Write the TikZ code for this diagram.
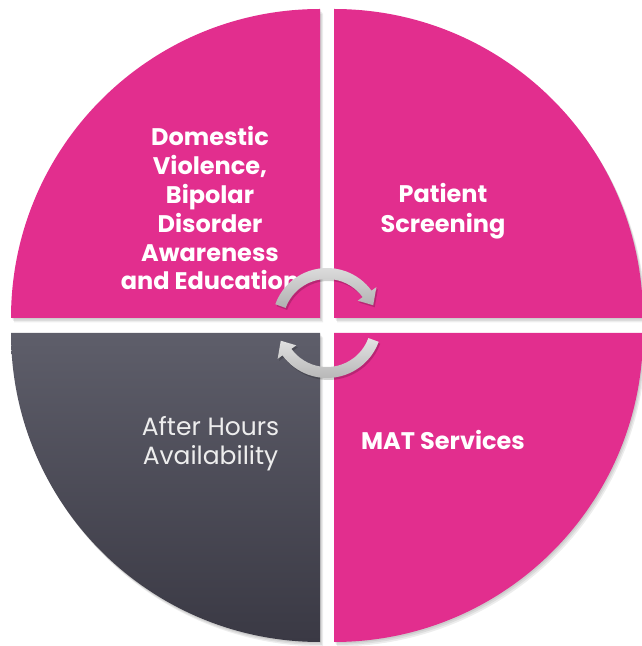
\documentclass[tikz,border=0pt]{standalone}
\usepackage{fontspec}
\setmainfont{Poppins}
\definecolor{pinkq}{HTML}{E22E8E}
\definecolor{grayTop}{HTML}{5E5E6A}
\definecolor{grayBot}{HTML}{3A3944}
\definecolor{txtlight}{HTML}{EDEDED}
\tikzset{
  quadshadow/.style={fill=black, opacity=0.07},
  lbl/.style={text=white, font=\fontsize{24}{28.8}\selectfont\bfseries, align=center, anchor=base, inner sep=0pt},
  lbllight/.style={text=txtlight, font=\fontsize{25}{29}\selectfont, align=center, anchor=base, inner sep=0pt},
  arrowfill/.style={top color=gray!22, bottom color=gray!62},
  arrowshadow/.style={fill=black, opacity=0.18},
}
\newcommand{\pathTL}{(320,328) -- (11,328) arc[start angle=180, end angle=90, radius=309pt] -- cycle}
\newcommand{\pathTR}{(334,328) -- (334,637) arc[start angle=90, end angle=0, radius=309pt] -- cycle}
\newcommand{\pathBL}{(320,313) -- (11,313) arc[start angle=180, end angle=270, radius=309pt] -- cycle}
\newcommand{\pathBR}{(334,313) -- (643,313) arc[start angle=0, end angle=-90, radius=309pt] -- cycle}
\newcommand{\cycarrow}{(160:55pt) arc[start angle=160, end angle=36, radius=55pt] -- (36:61pt) -- (21:49.5pt) -- (36:38pt) -- (36:44pt) arc[start angle=36, end angle=160, radius=44pt] -- cycle}
\begin{document}
\begin{tikzpicture}[x=1pt, y=1pt]
\useasboundingbox (0,0) rectangle (641,646);
% soft shadows
\foreach \dx/\dy in {1/-1.5, 2/-3, 3/-4.5}{
  \begin{scope}[shift={(\dx,\dy)}]
    \fill[quadshadow] \pathTL;
    \fill[quadshadow] \pathTR;
    \fill[quadshadow] \pathBL;
    \fill[quadshadow] \pathBR;
  \end{scope}
}
% quadrants
\fill[pinkq] \pathTL;
\fill[pinkq] \pathTR;
\shade[top color=grayTop, bottom color=grayBot] \pathBL;
\fill[pinkq] \pathBR;
% labels (anchor = baseline of the last line)
\node[lbl] (dv) at (210,356) {Domestic\\Violence,\\Bipolar\\Disorder\\Awareness\\and Education};
\node[lbl, font=\fontsize{24}{30.5}\selectfont\bfseries] (ps) at (443,413) {Patient\\Screening};
\node[lbl] (mat) at (443,196) {MAT Services};
\node[lbllight] (ah) at (210.5,181) {After Hours\\Availability};
% cycle arrows
\coordinate (ctr) at (327,323);
\begin{scope}[shift={(328.5,321)}]
  \fill[arrowshadow] \cycarrow;
  \begin{scope}[rotate=180]
    \fill[arrowshadow] \cycarrow;
  \end{scope}
\end{scope}
\begin{scope}[shift={(ctr)}]
  \shade[arrowfill] \cycarrow;
  \begin{scope}[rotate=180]
    \shade[arrowfill] \cycarrow;
  \end{scope}
\end{scope}
\end{tikzpicture}
\end{document}
